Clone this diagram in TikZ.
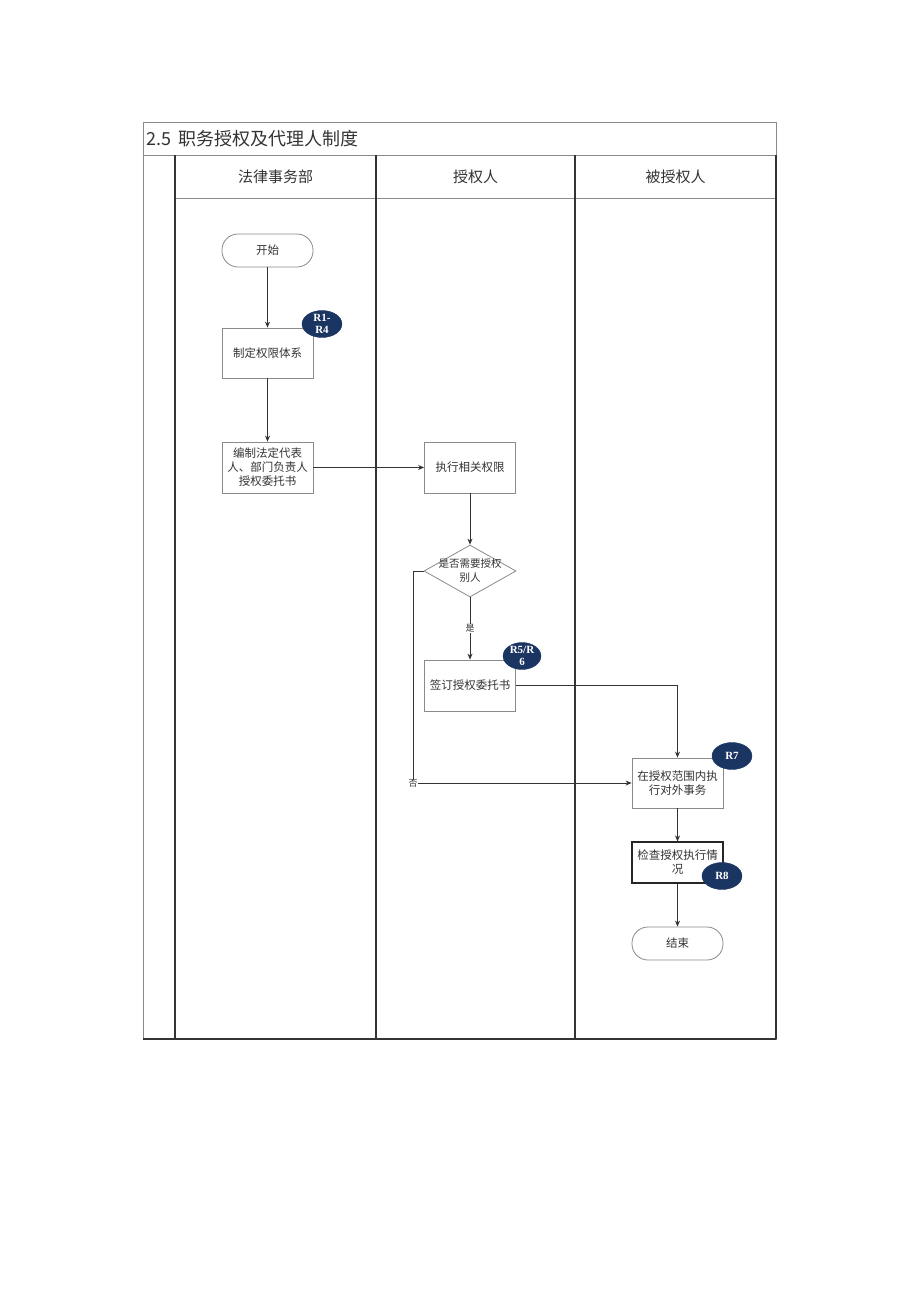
\documentclass[tikz,border=0pt]{standalone}
\usepackage{fontspec}
\setmainfont{Noto Sans CJK SC}
\newfontfamily\badgefont{Liberation Serif}
\usetikzlibrary{shapes.geometric,arrows.meta}
\definecolor{navy}{HTML}{1B3563}
\definecolor{txt}{HTML}{333333}
\definecolor{frame}{HTML}{8A8A8A}
\begin{document}
\begin{tikzpicture}[x=1pt,y=-1pt,
  box/.style={draw=frame,line width=0.8pt,fill=white,minimum width=91pt,minimum height=50pt,
    inner sep=1pt,align=center,font=\fontsize{11.5}{14}\selectfont,text=txt},
  term/.style={draw=frame,line width=0.8pt,fill=white,rounded corners=16pt,minimum width=91pt,
    minimum height=33pt,font=\fontsize{11.5}{14}\selectfont,text=txt},
  badge/.style={ellipse,fill=navy,draw=navy,minimum width=40pt,minimum height=27pt,inner sep=0pt,
    text=white,align=center,font=\badgefont\bfseries\fontsize{11}{11.5}\selectfont},
  arr/.style={draw=txt,line width=0.8pt,-{Stealth[length=6pt,width=5pt]}},
  lane/.style={draw=black!80,line width=1.3pt},
  thin/.style={draw=frame,line width=0.8pt},
  head/.style={font=\fontsize{15}{18}\selectfont,text=txt}]
\useasboundingbox (0,0) rectangle (920,1301);
% table
\draw[thin] (143,122) rectangle (776,1039);
\draw[thin] (143,155) -- (776,155);
\draw[thin] (175,198) -- (776,198);
\draw[lane] (175,155) -- (175,1039);
\draw[lane] (376,155) -- (376,1039);
\draw[lane] (575,155) -- (575,1039);
\draw[lane] (143,1039) -- (776,1039);
\draw[lane] (776,155) -- (776,1039);
\node[anchor=west,font=\fontsize{18}{20}\selectfont,text=txt] (title) at (143,139) {2.5\, 职务授权及代理人制度};
\node[head] (h1) at (275.5,177) {法律事务部};
\node[head] (h2) at (475.5,177) {授权人};
\node[head] (h3) at (675.5,177) {被授权人};
% nodes
\node[term] (start) at (267.5,250.5) {开始};
\node[box] (sys) at (267.5,353) {制定权限体系};
\node[box,minimum height=51pt] (comp) at (267.5,467.5) {编制法定代表\\人、部门负责人\\授权委托书};
\node[box,minimum height=51pt] (exec) at (470,467.5) {执行相关权限};
\node[diamond,draw=frame,line width=0.8pt,fill=white,minimum width=92pt,minimum height=52pt,inner sep=0pt] (dec) at (470,571) {};
\node[align=center,font=\fontsize{10.5}{14}\selectfont,text=txt] (dtxt) at (470,571) {是否需要授权\\别人};
\node[box,minimum height=51pt] (sign) at (470,685.5) {签订授权委托书};
\node[box] (act) at (677.5,783) {在授权范围内执\\行对外事务};
\node[box,draw=black!85,line width=1.2pt,minimum height=41pt] (chk) at (677.5,862.5) {检查授权执行情\\况};
\node[term] (end) at (677.5,943.5) {结束};
\coordinate (no) at (413,783);
% edges
\draw[arr] (start) -- (sys);
\draw[arr] (sys) -- (comp);
\draw[arr] (comp) -- (exec);
\draw[arr] (exec) -- (dec.north);
\draw[arr] (dec.south) -- node[fill=white,inner sep=1pt,font=\fontsize{9}{10}\selectfont,text=txt] (yes) {是} (sign.north);
\draw[arr] (sign.east) -| (act.north);
\draw[arr] (dec.west) -| (no) -- (act.west);
\node[fill=white,inner sep=0.5pt,font=\fontsize{9}{10}\selectfont,text=txt] (nolbl) at (no) {否};
\draw[arr] (act) -- (chk);
\draw[arr] (chk) -- (end);
% badges
\node[badge] (b1) at (322,324) {R1-\\R4};
\node[badge,minimum width=38pt] (b2) at (522,656) {R5/R\\6};
\node[badge] (b3) at (732,756) {R7};
\node[badge] (b4) at (722,876) {R8};
\end{tikzpicture}
\end{document}
